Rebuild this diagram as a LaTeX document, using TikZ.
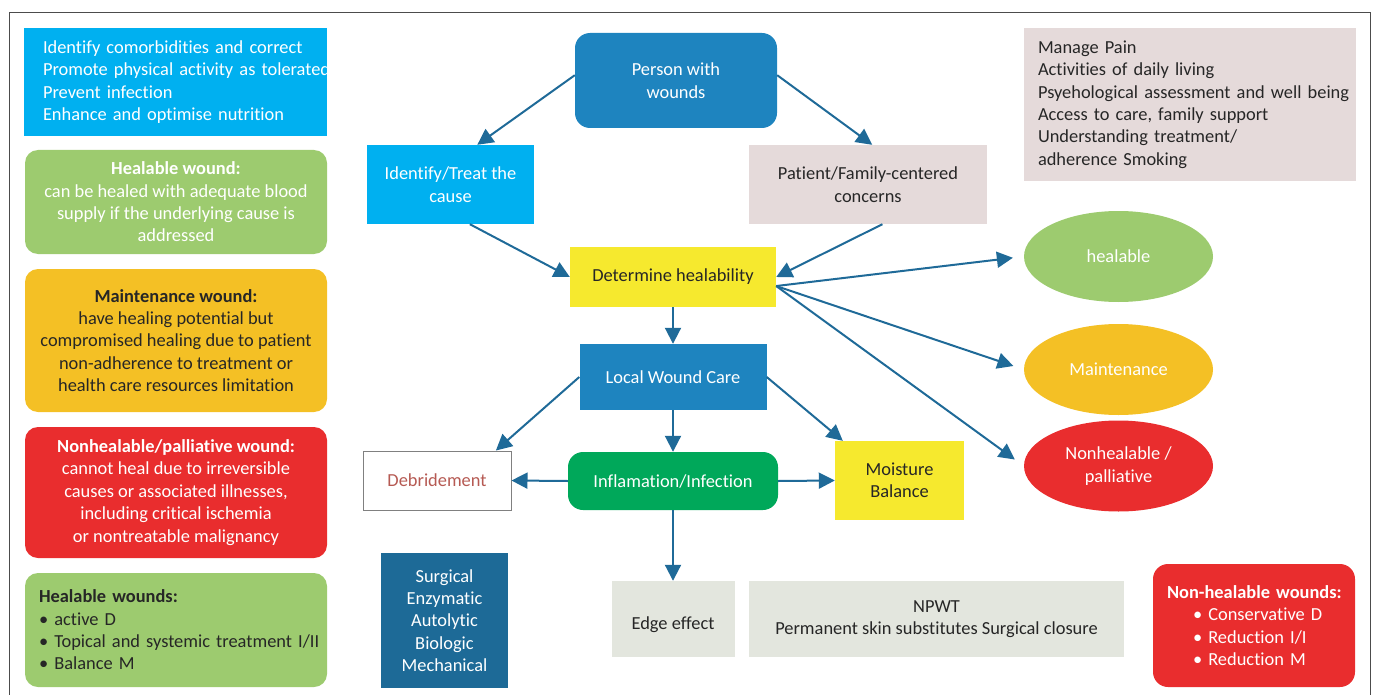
\documentclass[tikz,border=0pt]{standalone}
\usepackage{fontspec}
\setmainfont{Carlito}[Ligatures=NoCommon]
\usetikzlibrary{arrows.meta,shapes.geometric}

\definecolor{arrowblue}{HTML}{1F6A98}
\definecolor{cyanbox}{HTML}{00B0F0}
\definecolor{leafgreen}{HTML}{9DCB6F}
\definecolor{goldbox}{HTML}{F4C025}
\definecolor{redbox}{HTML}{E92D2E}
\definecolor{midblue}{HTML}{1E84BF}
\definecolor{deepblue}{HTML}{1D6A97}
\definecolor{rosegrey}{HTML}{E5DADA}
\definecolor{lemon}{HTML}{F6E92E}
\definecolor{emerald}{HTML}{00A85A}
\definecolor{paleground}{HTML}{E3E6DE}
\definecolor{darktext}{HTML}{262626}
\definecolor{brickred}{HTML}{B65A53}

\newcommand{\oneline}[1]{\mbox{#1}}

\begin{document}
\begin{tikzpicture}[x=1pt,y=-1pt,
  box/.style={rectangle, inner sep=0pt, align=center, font=\fontsize{18.4}{22.4}\selectfont},
  roundbox/.style={box, rounded corners=13pt},
  oval/.style={ellipse, inner sep=0pt, align=center, text=white, minimum width=189pt, minimum height=91pt, font=\fontsize{18.4}{22.4}\selectfont},
  flow/.style={draw=arrowblue, line width=2pt, -{Triangle[length=16pt,width=16pt]}}]
\useasboundingbox (0,0) rectangle (1375,695);
\draw[gray!60!black, line width=1pt] (9,700) -- (9,13) -- (1370,13) -- (1370,700);

\node[box, fill=cyanbox, text=white, minimum width=303pt, minimum height=108pt, text width=265pt, inner xsep=19pt, align=left] (tasks) at (175.5,82)
  {\oneline{Identify comorbidities and correct}\\\oneline{Promote physical activity as tolerated}\\\oneline{Prevent infection}\\\oneline{Enhance and optimise nutrition}};
\node[roundbox, fill=leafgreen, text=white, minimum width=302pt, minimum height=104pt] (healdef) at (176,202)
  {\textbf{Healable wound:}\\can be healed with adequate blood\\supply if the underlying cause is\\addressed};
\node[roundbox, fill=goldbox, text=darktext, minimum width=302pt, minimum height=143pt] (maintdef) at (176,340.5)
  {\textbf{Maintenance wound:}\\have healing potential but\\compromised healing due to patient\\non-adherence to treatment or\\health care resources limitation};
\node[roundbox, fill=redbox, text=white, minimum width=302pt, minimum height=131pt] (nonhealdef) at (176,492.5)
  {\textbf{Nonhealable/palliative wound:}\\cannot heal due to irreversible\\causes or associated illnesses,\\including critical ischemia\\or nontreatable malignancy};
\node[roundbox, fill=leafgreen, text=darktext, minimum width=302pt, minimum height=114pt, text width=274pt, inner xsep=14pt, align=left] (healplan) at (176,630)
  {\oneline{\textbf{Healable wounds:}}\\\oneline{• active D}\\\oneline{• Topical and systemic treatment I/II}\\\oneline{• Balance M}};

\node[roundbox, rounded corners=15pt, fill=midblue, text=white, minimum width=202pt, minimum height=95pt] (person) at (676,80.5) {Person with\\wounds};
\node[box, fill=cyanbox, text=white, minimum width=167pt, minimum height=79pt] (ident) at (450.5,184.5) {Identify/Treat the\\cause};
\node[box, fill=rosegrey, text=darktext, minimum width=238pt, minimum height=79pt] (patient) at (868,184.5) {Patient/Family-centered\\concerns};
\node[box, fill=lemon, text=darktext, minimum width=206pt, minimum height=60pt] (determ) at (673,277) {Determine healability};
\node[box, fill=midblue, text=white, minimum width=187pt, minimum height=66pt] (local) at (673,377) {Local Wound Care};
\node[box, draw=gray, line width=1pt, fill=white, text=brickred, minimum width=148pt, minimum height=59pt] (debrid) at (437,480.5) {Debridement};
\node[roundbox, rounded corners=15pt, fill=emerald, text=white, minimum width=210pt, minimum height=58pt] (inflam) at (673,481) {Inflamation/Infection};
\node[box, fill=lemon, text=darktext, minimum width=129pt, minimum height=79pt] (moist) at (899.5,480.5) {Moisture\\Balance};
\node[box, fill=paleground, text=darktext, minimum width=123pt, minimum height=76pt, align=none, text height=24pt, text depth=4pt] (edge) at (673,619) {Edge effect};
\node[box, fill=paleground, text=darktext, minimum width=375pt, minimum height=76pt] (npwt) at (936.5,619) {NPWT\\Permanent skin substitutes Surgical closure};
\node[box, fill=deepblue, text=white, minimum width=127pt, minimum height=135pt] (methods) at (444.5,620.5) {Surgical\\Enzymatic\\Autolytic\\Biologic\\Mechanical};

\node[box, fill=rosegrey, text=darktext, minimum width=332pt, minimum height=153pt, text width=304pt, inner xsep=14pt, align=left] (concerns) at (1190,104.5)
  {\oneline{Manage Pain}\\\oneline{Activities of daily living}\\\oneline{Psyehological assessment and well being}\\\oneline{Access to care, family support}\\\oneline{Understanding treatment/}\\\oneline{adherence Smoking}};
\node[oval, fill=leafgreen] (healable) at (1118.5,256.5) {healable};
\node[oval, fill=goldbox] (maint) at (1118.5,369.5) {Maintenance};
\node[oval, fill=redbox] (nonheal) at (1118.5,466) {Nonhealable /\\palliative};
\node[roundbox, rounded corners=15pt, fill=redbox, text=white, minimum width=202pt, minimum height=123pt, text width=174pt, inner xsep=14pt, align=left] (nonhealplan) at (1254,625.5)
  {\oneline{\textbf{Non-healable wounds:}}\\\oneline{\hspace*{26pt}• Conservative D}\\\oneline{\hspace*{26pt}• Reduction I/I}\\\oneline{\hspace*{26pt}• Reduction M}};

\draw[flow] (person.177) -- (ident.56);
\draw[flow] (person.3) -- (patient.84);
\draw[flow] (ident.-64) -- (determ.west);
\draw[flow] (patient.-70) -- (determ.east);
\draw[flow, shorten >=11pt] (determ.-5) -- (healable.west);
\draw[flow, shorten >=11pt] (determ.-5) -- (maint.west);
\draw[flow, shorten >=11pt] (determ.-5) -- (nonheal.west);
\draw[flow] (determ.south) -- (local.north);
\draw[flow] (local.west) -- (debrid.27);
\draw[flow] (local.south) -- (inflam.north);
\draw[flow] (local.east) -- (moist.145);
\draw[flow] (inflam.west) -- (debrid.east);
\draw[flow] (inflam.east) -- (moist.west);
\draw[flow] (inflam.south) -- (edge.north);
\end{tikzpicture}
\end{document}
